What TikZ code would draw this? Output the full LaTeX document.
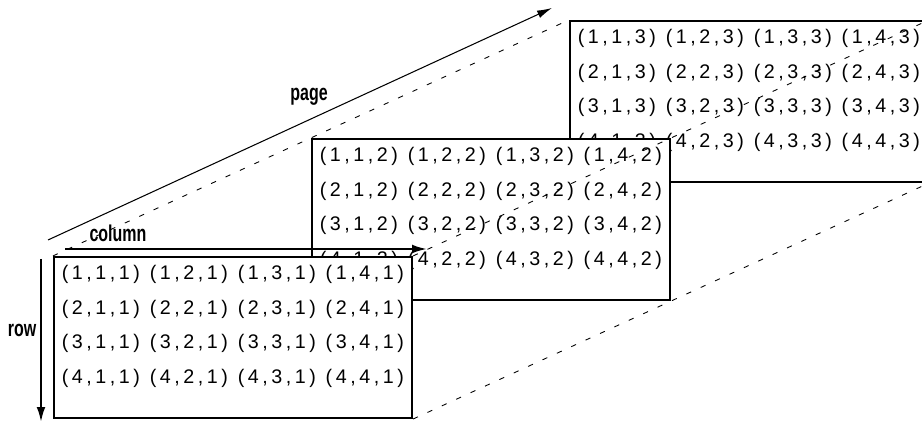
\documentclass[tikz,border=0pt]{standalone}
\usepackage{fontspec}
\usepackage{tikz}
\usetikzlibrary{arrows.meta}
\newfontfamily\cellfont[LetterSpace=18]{Liberation Sans}
\newfontfamily\labelfont[FakeStretch=0.7]{Liberation Sans}
\newcommand{\cellgap}{\hspace{5.6pt}}
\tikzset{
  pagebox/.style={draw, fill=white, line width=1.2pt, inner sep=0pt,
    minimum width=7.16cm, minimum height=3.22cm},
  cellrow/.style={anchor=west, inner sep=0pt, font=\cellfont\fontsize{11.2}{13}\selectfont},
  axislabel/.style={inner sep=0pt, font=\labelfont\bfseries\fontsize{13}{15}\selectfont},
  guide/.style={line width=0.5pt, dash pattern=on 3pt off 6pt}
}

\begin{document}
\begin{tikzpicture}
\clip (0, 0) rectangle (18.44, 8.44);
% 1. 标记重要的点
\coordinate (rowtop) at (0.82, 3.26);
\coordinate (rowend) at (0.82, 0);
\coordinate (coltop) at (1.30, 3.46);
\coordinate (colend) at (8.54, 3.46);
\coordinate (pagetop) at (0.96, 3.64);
\coordinate (pageend) at (11.04, 8.28);

% 2. 从后往前画三页
\foreach \k/\dx/\dy in
    {3/10.32/4.72, 2/5.16/2.36, 1/0/0}
    {\node[pagebox] (page\k) at (4.66+\dx, 1.69+\dy) {};
     \foreach \i in {1,...,4}
        {\node[cellrow] (row\i-\k) at ([xshift=0.17cm, yshift={-0.37cm-0.69cm*(\i-1)}]page\k.north west)
            {(\i,1,\k)\cellgap(\i,2,\k)\cellgap(\i,3,\k)\cellgap(\i,4,\k)};
        }
    }

% 3. 连接各页角点的虚线
\draw[guide] (page1.north west) -- (page3.north west);
\draw[guide] (page1.north east) -- (page3.north east);
\draw[guide] (page1.south east) -- (page3.south east);

% 4. 三个方向的箭头
\draw[-{Latex[length=8.5pt, width=4.5pt]}, line width=0.6pt] (pagetop) -- (pageend);
\draw[-{Latex[length=8.5pt, width=5pt]}, line width=1.2pt] (coltop) -- (colend);
\draw[-{Latex[length=8.5pt, width=5pt]}, line width=1.2pt] (rowtop) -- (rowend);
\node[axislabel] (rowlabel) at (0.44, 1.84) {row};
\node[axislabel] (collabel) at (2.36, 3.78) {column};
\node[axislabel] (pagelabel) at (6.18, 6.51) {page};
\end{tikzpicture}
\end{document}
